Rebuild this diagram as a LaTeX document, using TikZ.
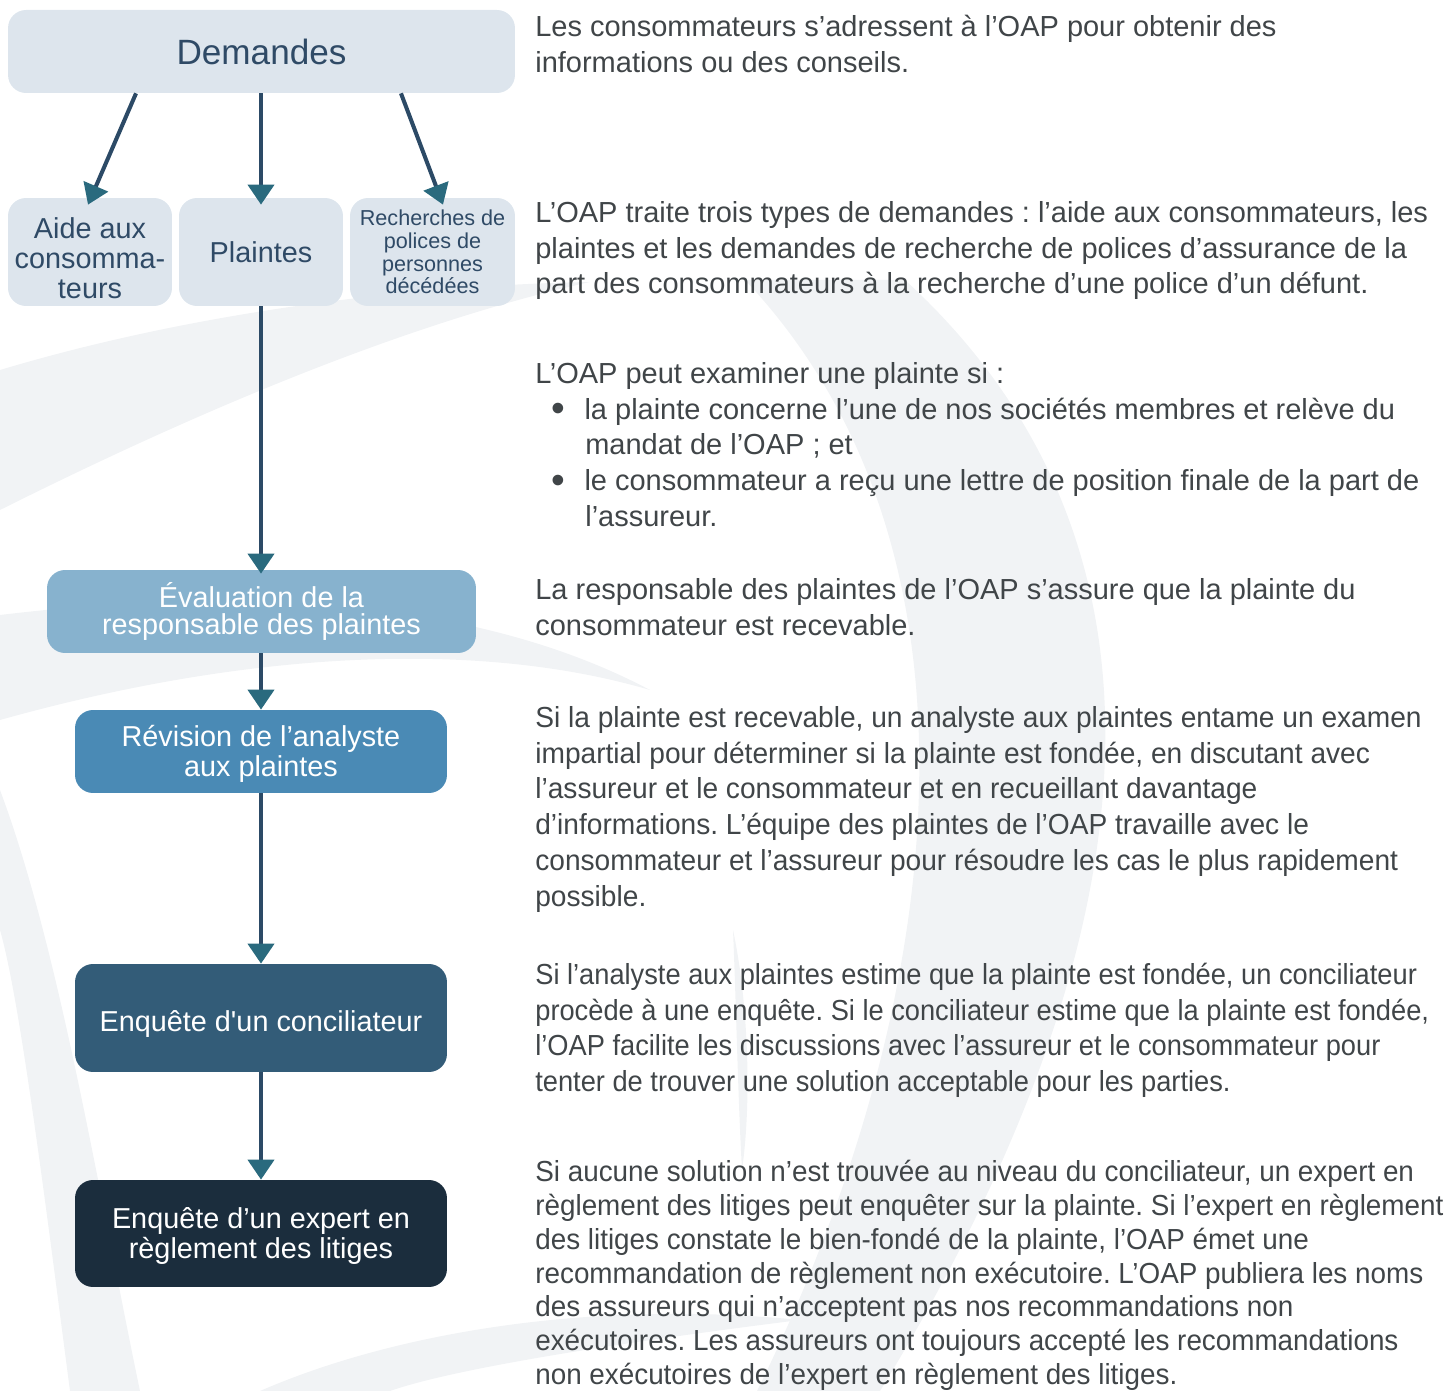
\documentclass[tikz,border=0pt]{standalone}
\usepackage{fontspec}
\setmainfont{Liberation Sans}
\newfontfamily\condA[FakeStretch=0.97]{Liberation Sans}
\newfontfamily\condB[FakeStretch=0.94]{Liberation Sans}
\newfontfamily\condC[FakeStretch=0.96]{Liberation Sans}
\usetikzlibrary{arrows.meta}

\definecolor{boxlight}{HTML}{DDE5ED}
\definecolor{boxtext}{HTML}{2F4A66}
\definecolor{evalcol}{HTML}{87B2CE}
\definecolor{revcol}{HTML}{4A8AB5}
\definecolor{conccol}{HTML}{335C78}
\definecolor{expcol}{HTML}{1B2D3D}
\definecolor{linecol}{HTML}{2C4A66}
\definecolor{tipcol}{HTML}{2A6A7E}
\definecolor{bodytext}{HTML}{404548}
\definecolor{wm}{HTML}{F1F3F5}

\newcommand\bodyfont{\fontsize{16.5}{20.4}\selectfont}
\newcommand\boxfont{\fontsize{16.4}{17}\selectfont}
\newcommand\itembullet{\hspace*{0.33cm}\raisebox{-1.4pt}{\scalebox{1.35}{\textbullet}}\hspace*{0.38cm}}

\begin{document}
\frenchspacing
\begin{tikzpicture}[x=0.02cm,y=-0.02cm,
    box/.style={rounded corners=0.36cm, align=center, inner sep=0pt},
    lightbox/.style={box, fill=boxlight, text=boxtext, font=\boxfont},
    flow/.style={draw=linecol, line width=2.3pt,
      -{Triangle[width=0.52cm,length=0.4cm,color=tipcol]}},
    para/.style={anchor=north west, align=left, inner sep=0pt,
      text=bodytext, font=\bodyfont}]

  \useasboundingbox (0,0) rectangle (1450,1391);

  % watermark
  \begin{scope}[wm]
    \fill (0,370) .. controls (200,310) and (420,285) .. (590,282)
      .. controls (420,320) and (220,400) .. (0,510) -- cycle;
    \fill (0,615) .. controls (250,585) and (480,600) .. (650,690)
      .. controls (480,640) and (250,650) .. (0,720) -- cycle;
    \fill (0,790) .. controls (60,950) and (100,1200) .. (140,1391)
      -- (70,1391) .. controls (45,1200) and (20,1000) .. (0,930) -- cycle;
    \fill (260,1391) .. controls (400,1330) and (600,1300) .. (800,1320)
      .. controls (600,1345) and (450,1370) .. (390,1391) -- cycle;
    \fill (905,280) .. controls (1200,550) and (1150,950) .. (880,1391)
      -- (757,1391) .. controls (950,1000) and (1000,550) .. (745,280) -- cycle;
    \fill (733,930) .. controls (748,1000) and (752,1100) .. (742,1170)
      .. controls (738,1100) and (736,1000) .. (733,930) -- cycle;
  \end{scope}

  % boxes
  \node[lightbox, minimum width=10.14cm, minimum height=1.66cm,
    font=\fontsize{20}{24}\selectfont] (dem) at (261.5,51.5) {Demandes};
  \node[lightbox, minimum width=3.28cm, minimum height=2.16cm] (aide) at (90,252)
    {\rule{0pt}{19pt}Aide aux\\consomma-\\teurs};
  \node[lightbox, minimum width=3.28cm, minimum height=2.16cm] (pla) at (261,252)
    {Plaintes};
  \node[lightbox, minimum width=3.3cm, minimum height=2.16cm,
    font=\fontsize{12.3}{13}\selectfont] (rech) at (432.5,252)
    {Recherches de\\polices de\\personnes\\décédées};

  \begin{scope}[every node/.style={box, text=white, font=\boxfont,
      minimum width=7.44cm}]
    \node[fill=evalcol, minimum width=8.58cm, minimum height=1.66cm,
      font=\fontsize{16.4}{15.9}\selectfont] (eval) at (261.5,611.5)
      {Évaluation de la\\responsable des plaintes};
    \node[fill=revcol, minimum height=1.66cm] (rev) at (261,751.5)
      {\rule{0pt}{15pt}Révision de l’analyste\\aux plaintes};
    \node[fill=conccol, minimum height=2.16cm] (conc) at (261,1018)
      {\rule{0pt}{19pt}Enquête d\textquotesingle un conciliateur};
    \node[fill=expcol, minimum height=2.14cm] (exp) at (261,1233.5)
      {\rule{0pt}{15pt}Enquête d’un expert en\\règlement des litiges};
  \end{scope}

  % arrows
  \draw[flow] ([xshift=-2.51cm]dem.south) -- ([xshift=-0.04cm,yshift=-0.14cm]aide.north);
  \draw[flow] (dem.south -| pla.north) -- ([yshift=-0.14cm]pla.north);
  \draw[flow] ([xshift=2.79cm]dem.south) -- ([xshift=0.21cm,yshift=-0.14cm]rech.north);
  \draw[flow] (pla.south) -- ([yshift=-0.08cm]eval.north -| pla.south);
  \draw[flow] (eval.south -| rev.north) -- (rev.north);
  \draw[flow] (rev.south) -- (conc.north);
  \draw[flow] (conc.south) -- (exp.north);

  % texts
  \node[para] (t1) at (535,10.8)
    {\strut Les consommateurs s’adressent à l’OAP pour obtenir des\\
     informations ou des conseils.};
  \node[para] (t2) at (535,196.8)
    {\strut L’OAP traite trois types de demandes : l’aide aux consommateurs, les\\
     plaintes et les demandes de recherche de polices d’assurance de la\\
     part des consommateurs à la recherche d’une police d’un défunt.};
  \node[para] (t3) at (535,357.8)
    {\strut L’OAP peut examiner une plainte si :\\
     \itembullet la plainte concerne l’une de nos sociétés membres et relève du\\
     \hspace*{1cm}mandat de l’OAP ; et\\
     \itembullet le consommateur a reçu une lettre de position finale de la part de\\
     \hspace*{1cm}l’assureur.};
  \node[para] (t4) at (535,573.8)
    {\strut La responsable des plaintes de l’OAP s’assure que la plainte du\\
     consommateur est recevable.};
  \node[para, font=\condA\bodyfont] (t5) at (535,701.8)
    {\strut Si la plainte est recevable, un analyste aux plaintes entame un examen\\
     impartial pour déterminer si la plainte est fondée, en discutant avec\\
     l’assureur et le consommateur et en recueillant davantage\\
     d’informations. L’équipe des plaintes de l’OAP travaille avec le\\
     consommateur et l’assureur pour résoudre les cas le plus rapidement\\
     possible.};
  \node[para, font=\condB\bodyfont] (t6) at (535,958.8)
    {\strut Si l’analyste aux plaintes estime que la plainte est fondée, un conciliateur\\
     procède à une enquête. Si le conciliateur estime que la plainte est fondée,\\
     l’OAP facilite les discussions avec l’assureur et le consommateur pour\\
     tenter de trouver une solution acceptable pour les parties.};
  \node[para, font=\condC\fontsize{16.5}{19.3}\selectfont] (t7) at (535,1157.2)
    {\strut Si aucune solution n’est trouvée au niveau du conciliateur, un expert en\\
     règlement des litiges peut enquêter sur la plainte. Si l’expert en règlement\\
     des litiges constate le bien-fondé de la plainte, l’OAP émet une\\
     recommandation de règlement non exécutoire. L’OAP publiera les noms\\
     des assureurs qui n’acceptent pas nos recommandations non\\
     exécutoires. Les assureurs ont toujours accepté les recommandations\\
     non exécutoires de l’expert en règlement des litiges.};

\end{tikzpicture}
\end{document}
